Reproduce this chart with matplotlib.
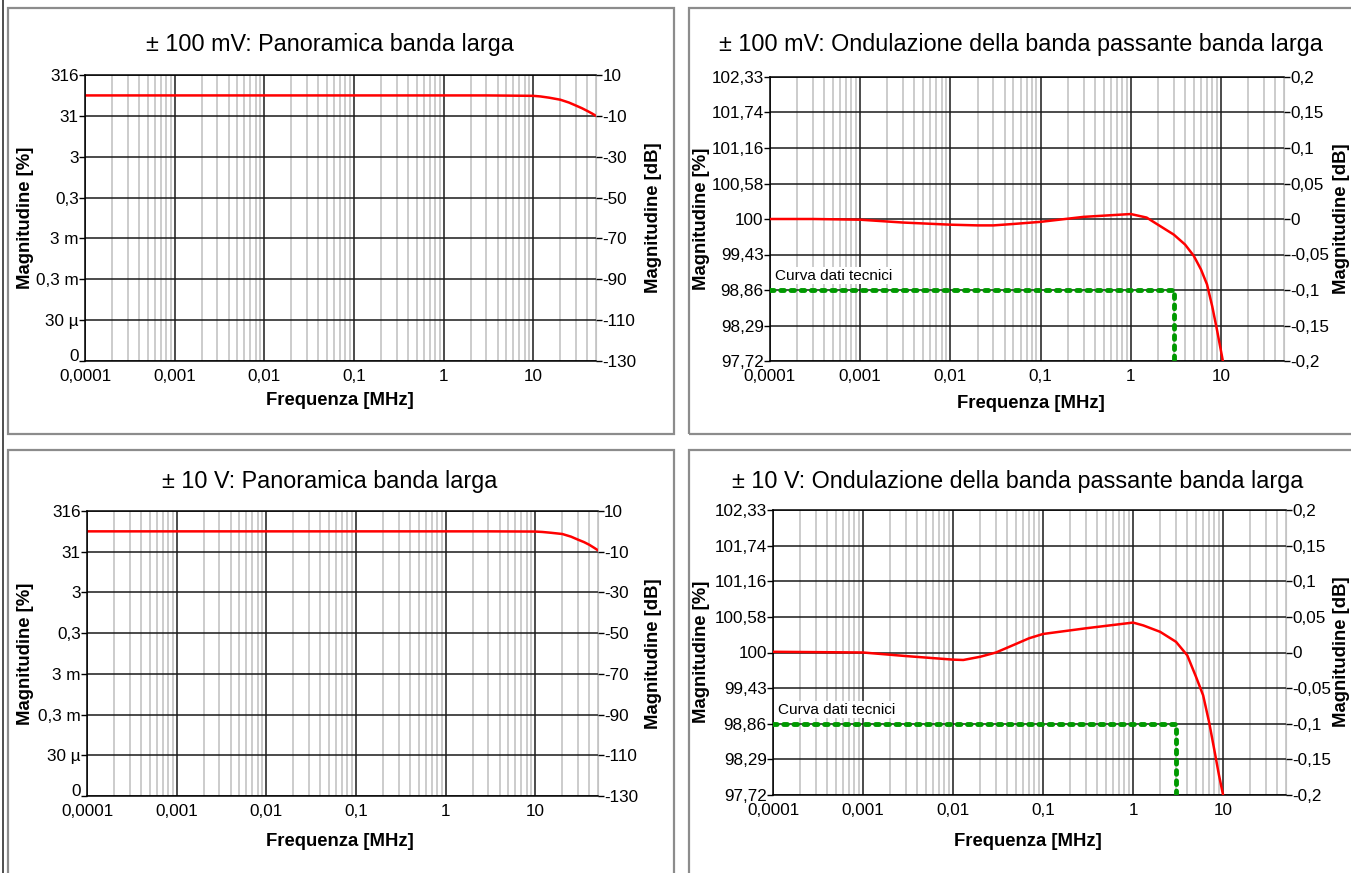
#!/usr/bin/python3

import matplotlib
matplotlib.use('Agg')
import matplotlib.pyplot as plt
from matplotlib.patches import Rectangle
from matplotlib.lines import Line2D
from matplotlib.ticker import LogLocator, NullFormatter
from matplotlib.transforms import ScaledTranslation


W, H = 1351, 873

# frequency axis (MHz)
freq_ticks = [1e-4, 1e-3, 1e-2, 1e-1, 1, 10]
freq_labels = ['0,0001', '0,001', '0,01', '0,1', '1', '10']

# wide band overview: dB scale with matching % labels
wide_db_ticks = [10, -10, -30, -50, -70, -90, -110, -130]
wide_pct_labels = ['316', '31', '3', '0,3', '3 m', '0,3 m', '30 µ', '0']

# pass band ripple: dB scale with matching % labels
ripple_db_ticks = [0.2, 0.15, 0.1, 0.05, 0, -0.05, -0.1, -0.15, -0.2]
ripple_db_labels = ['0,2', '0,15', '0,1', '0,05', '0', '-0,05', '-0,1', '-0,15', '-0,2']
ripple_pct_labels = ['102,33', '101,74', '101,16', '100,58', '100', '99,43', '98,86', '98,29', '97,72']

# measured response, +-100 mV range
wide_freq = [1e-4, 1e-3, 0.01, 0.1, 1, 3, 10, 12, 15, 20, 25, 30, 35, 40, 45, 50]
wide_db_100mv = [0, 0, 0, 0, 0, 0, -0.2, -0.5, -1.1, -2.1, -3.5, -5.0, -6.3, -7.6, -8.8, -10.0]
# measured response, +-10 V range
wide_db_10v = [0, 0, 0, 0, 0, 0, -0.1, -0.3, -0.7, -1.3, -2.6, -4.1, -5.3, -6.6, -8.0, -9.3]

ripple_freq_100mv = [1e-4, 3e-4, 1e-3, 3e-3, 0.01, 0.02, 0.03, 0.05, 0.1, 0.3, 1,
	1.5, 2, 3, 4, 5, 6, 7, 8, 9, 10.5]
ripple_db_100mv = [0, 0, -0.001, -0.005, -0.008, -0.009, -0.009, -0.007, -0.004, 0.003, 0.007,
	0.002, -0.008, -0.022, -0.036, -0.052, -0.071, -0.092, -0.123, -0.155, -0.2]

ripple_freq_10v = [1e-4, 1e-3, 3e-3, 0.01, 0.013, 0.02, 0.03, 0.05, 0.07, 0.1, 0.3, 1,
	1.3, 2, 3, 4, 5, 6, 7, 8, 9, 10]
ripple_db_10v = [0.001, 0, -0.005, -0.010, -0.0105, -0.006, 0.0, 0.012, 0.02, 0.026, 0.034, 0.042,
	0.038, 0.029, 0.015, -0.004, -0.034, -0.060, -0.098, -0.137, -0.172, -0.2]

# datasheet limit curve
spec_freq = [1e-4, 3, 3]
spec_db = [-0.1, -0.1, -0.2]


def fx(px):
	return px / W


def fy(py):
	return 1 - py / H


def make_axes(fig, left, top, right, bottom):
	'''axes placed by pixel edges'''
	return fig.add_axes([fx(left), fy(bottom), fx(right) - fx(left), (bottom - top) / H])


def style_axes(ax, db_ticks, db_labels, pct_labels, ylim):
	'''log frequency grid with dB on the right and % on the left'''
	ax.set_xscale('log')
	ax.set_xlim(1e-4, 50)
	ax.set_ylim(*ylim)
	ax.set_xticks(freq_ticks)
	ax.set_xticklabels(freq_labels)
	ax.xaxis.set_minor_locator(LogLocator(base=10, subs=range(2, 10), numticks=20))
	ax.xaxis.set_minor_formatter(NullFormatter())
	ax.grid(which='minor', axis='x', color='#c4c4c4', lw=1.2)
	ax.grid(which='major', axis='x', color='#1a1a1a', lw=1.1)
	ax.grid(which='major', axis='y', color='#1a1a1a', lw=1.1)
	ax.set_axisbelow(True)
	ax.set_yticks(db_ticks)
	ax.set_yticklabels(pct_labels)
	ax.tick_params(axis='x', which='both', length=0, labelsize=12.3, pad=6)
	ax.tick_params(axis='y', length=4, width=1, color='black', labelsize=12.3, pad=0.5)
	for side in ['left', 'bottom', 'top']:
		ax.spines[side].set_color('black')
		ax.spines[side].set_linewidth(1.1)
	ax.spines['right'].set_color('#c4c4c4')

	ax2 = ax.twinx()
	ax2.set_ylim(*ylim)
	ax2.set_yticks(db_ticks)
	ax2.set_yticklabels(db_labels)
	ax2.tick_params(axis='y', length=4, width=1, color='black', labelsize=12.3, pad=0.5)
	for side in ax2.spines:
		ax2.spines[side].set_visible(False)
	return ax2


def lift_bottom_label(fig, ax):
	'''raise the lowest % label a little off the frequency labels'''
	lab = ax.get_yticklabels()[-1]
	lab.set_transform(lab.get_transform() + ScaledTranslation(0, 0.06, fig.dpi_scale_trans))


def panel_frame(fig, left, top, right, bottom):
	'''gray frame round one chart'''
	fig.patches.append(Rectangle((fx(left), fy(bottom)), fx(right) - fx(left), (bottom - top) / H,
		transform=fig.transFigure, fill=False, edgecolor='#8c8c8c', lw=1.6))


def labels(fig, title, cx, ty, lx, rx, cy, xy):
	fig.text(fx(cx), fy(ty), title, ha='center', va='center', fontsize=16.8)
	fig.text(fx(lx), fy(cy), 'Magnitudine [%]', ha='center', va='center', rotation=90,
		fontsize=13.3, fontweight='bold')
	fig.text(fx(rx), fy(cy), 'Magnitudine [dB]', ha='center', va='center', rotation=90,
		fontsize=13.3, fontweight='bold')
	fig.text(fx(cx + 10), fy(xy), 'Frequenza [MHz]', ha='center', va='center',
		fontsize=13.3, fontweight='bold')


def spec_curve(ax):
	'''dotted datasheet limit with its caption'''
	line, = ax.plot(spec_freq, spec_db, color='#009900', lw=3.5, linestyle=(0, (0.75, 1.35)), zorder=3)
	line.set_dash_capstyle('round')
	ax.text(1.15e-4, -0.08, 'Curva dati tecnici', fontsize=11, ha='left', va='center',
		bbox=dict(facecolor='white', edgecolor='none', pad=1))


def main():
	'''four panel frequency response sheet'''
	plt.rcParams['font.family'] = ['Liberation Sans', 'DejaVu Sans']

	fig = plt.figure(figsize=(W / 100, H / 100), dpi=100)

	# frames round each chart
	panel_frame(fig, 8, 8, 674, 434)
	panel_frame(fig, 689, 8, 1360, 434)
	panel_frame(fig, 8, 450, 674, 880)
	panel_frame(fig, 689, 450, 1360, 880)
	fig.lines.append(Line2D([fx(3), fx(3)], [0, 1], transform=fig.transFigure, color='#303030', lw=1.2))

	# top left: +-100 mV overview
	ax = make_axes(fig, 85, 75, 596, 361)
	style_axes(ax, wide_db_ticks, [str(v) for v in wide_db_ticks], wide_pct_labels, (-130, 10))
	lift_bottom_label(fig, ax)
	ax.plot(wide_freq, wide_db_100mv, color='red', lw=1.8)
	labels(fig, '± 100 mV: Panoramica banda larga', 330, 45, 25, 653, 218, 401)

	# top right: +-100 mV pass band ripple
	ax = make_axes(fig, 770, 77, 1284, 361)
	style_axes(ax, ripple_db_ticks, ripple_db_labels, ripple_pct_labels, (-0.2, 0.2))
	spec_curve(ax)
	ax.plot(ripple_freq_100mv, ripple_db_100mv, color='red', lw=1.8, zorder=4)
	labels(fig, '± 100 mV: Ondulazione della banda passante banda larga', 1021, 45, 702, 1342, 219, 403)

	# bottom left: +-10 V overview
	ax = make_axes(fig, 87, 511, 598, 796)
	style_axes(ax, wide_db_ticks, [str(v) for v in wide_db_ticks], wide_pct_labels, (-130, 10))
	lift_bottom_label(fig, ax)
	ax.plot(wide_freq, wide_db_10v, color='red', lw=1.8)
	labels(fig, '± 10 V: Panoramica banda larga', 330, 481, 25, 653, 654, 842)

	# bottom right: +-10 V pass band ripple
	ax = make_axes(fig, 773, 510, 1286, 795)
	style_axes(ax, ripple_db_ticks, ripple_db_labels, ripple_pct_labels, (-0.2, 0.2))
	spec_curve(ax)
	ax.plot(ripple_freq_10v, ripple_db_10v, color='red', lw=1.8, zorder=4)
	labels(fig, '± 10 V: Ondulazione della banda passante banda larga', 1018, 481, 702, 1342, 652, 842)

	plt.savefig('out.png', dpi=100)


if __name__ == '__main__':
	main()
